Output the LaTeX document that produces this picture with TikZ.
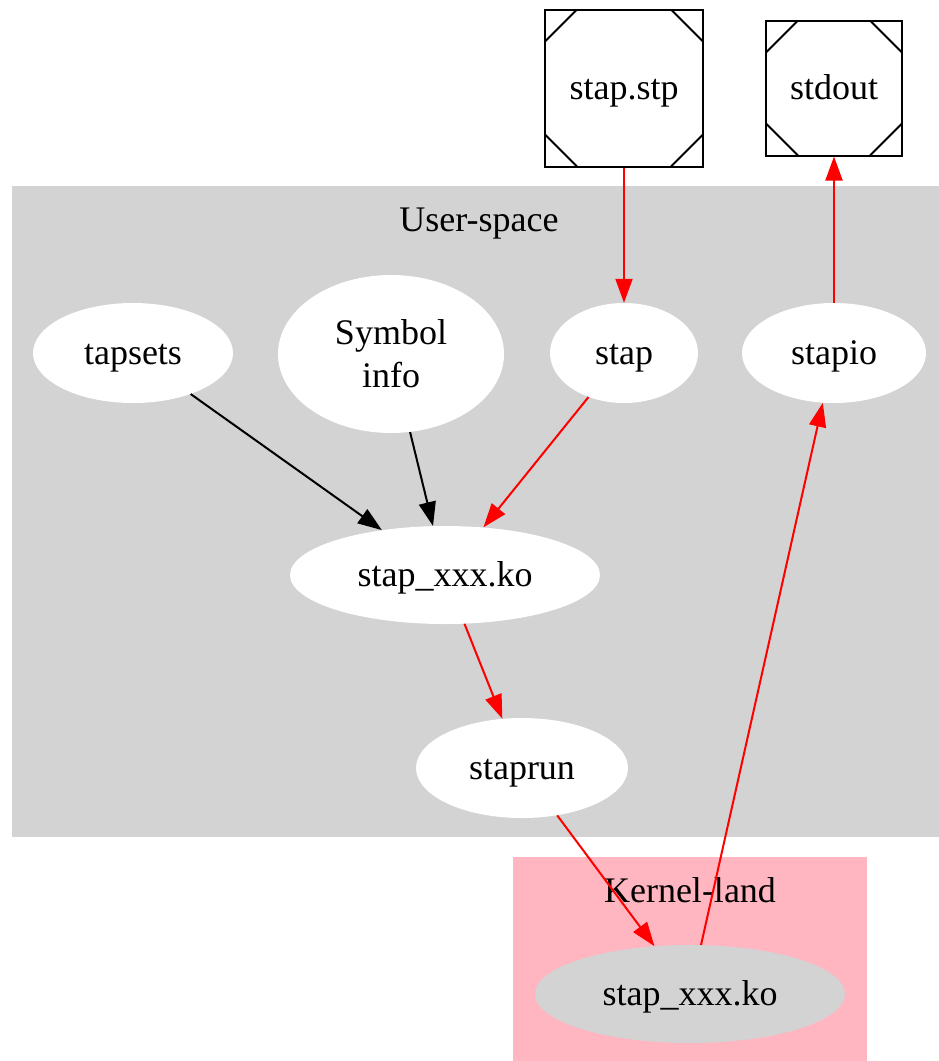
\documentclass[tikz,border=0pt]{standalone}
\usepackage{fontspec}
\setmainfont{Liberation Serif}
\usetikzlibrary{shapes.geometric,arrows.meta}
\definecolor{clgray}{HTML}{D3D3D3}
\definecolor{clpink}{HTML}{FFB6C1}
\begin{document}
\begin{tikzpicture}[x=1pt,y=-1pt,
  every node/.style={font=\fontsize{36}{43}\selectfont},
  oneline/.style={text height=30pt,text depth=8pt},
  ell/.style={ellipse,fill=white,inner sep=0pt},
  msq/.style={rectangle,draw=black,line width=2pt,fill=white,inner sep=0pt,oneline,
    path picture={
      \draw[line width=2pt]
        ([yshift=-32pt]path picture bounding box.north west) -- ([xshift=32pt]path picture bounding box.north west)
        ([yshift=-32pt]path picture bounding box.north east) -- ([xshift=-32pt]path picture bounding box.north east)
        ([yshift=32pt]path picture bounding box.south west) -- ([xshift=32pt]path picture bounding box.south west)
        ([yshift=32pt]path picture bounding box.south east) -- ([xshift=-32pt]path picture bounding box.south east);
    }},
  redarr/.style={draw=red,line width=2pt,-{Triangle[length=24pt,width=17pt]},red},
  blkarr/.style={draw=black,line width=2pt,-{Triangle[length=24pt,width=17pt]}},
  clabel/.style={inner sep=0pt,oneline}
]
\useasboundingbox[fill=white] (0,0) rectangle (939,1061);
% clusters
\fill[clgray] (12,186) rectangle (939,837);
\fill[clpink] (513,857) rectangle (867,1061);
\node[clabel] (ulabel) at (479,220) {User-space};
\node[clabel] (klabel) at (690,891) {Kernel-land};
% file nodes
\node[msq,minimum width=158pt,minimum height=157pt] (stp) at (624,88) {stap.stp};
\node[msq,minimum width=136pt,minimum height=135pt] (stdout) at (834,88) {stdout};
% user-space nodes
\node[ell,oneline,minimum width=200pt,minimum height=100pt] (tapsets) at (133,353) {tapsets};
\node[ell,minimum width=226pt,minimum height=158pt,align=center] (sym) at (391,354) {Symbol\\info};
\node[ell,oneline,minimum width=148pt,minimum height=100pt] (stap) at (624,353) {stap};
\node[ell,oneline,minimum width=184pt,minimum height=100pt] (stapio) at (834,353) {stapio};
\node[ell,oneline,minimum width=310pt,minimum height=98pt] (ko) at (445,575) {stap\_xxx.ko};
\node[ell,oneline,minimum width=212pt,minimum height=100pt] (staprun) at (522,768) {staprun};
% kernel node
\node[ellipse,fill=clgray,inner sep=0pt,oneline,minimum width=310pt,minimum height=98pt] (kko) at (690,994) {stap\_xxx.ko};
% edges
\draw[redarr] (stp) -- (stap);
\draw[redarr] (stapio) -- (stdout);
\draw[blkarr] (tapsets) -- (ko);
\draw[blkarr] (sym) -- (ko);
\draw[redarr] (stap) -- (ko);
\draw[redarr] (ko) -- (staprun);
\draw[redarr] (staprun) -- (kko);
\draw[redarr] (kko) -- (stapio);
\end{tikzpicture}
\end{document}
